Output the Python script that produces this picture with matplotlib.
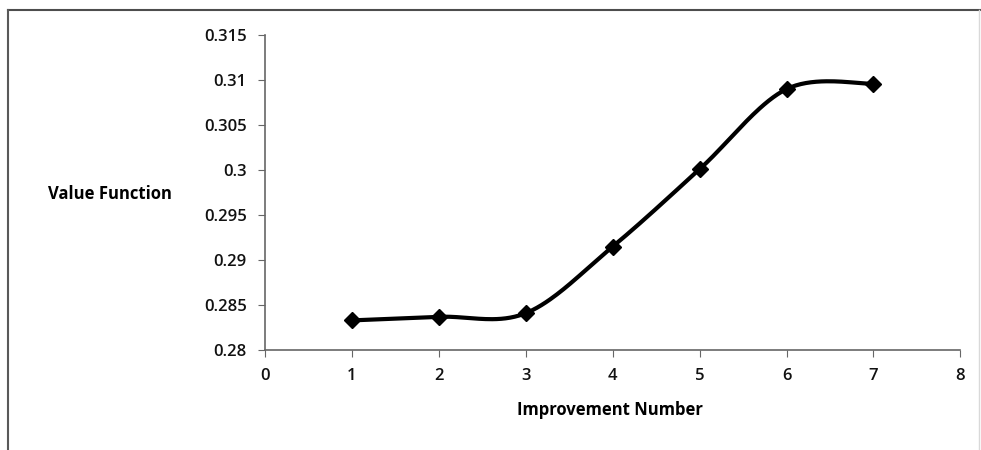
import matplotlib

matplotlib.use("Agg")
import matplotlib.pyplot as plt
import numpy as np
from matplotlib.lines import Line2D

# Valores
improvement = [1, 2, 3, 4, 5, 6, 7]
value_function = [0.2833, 0.2837, 0.2841, 0.2915, 0.3001, 0.3090, 0.3096]

x_ticks = [0, 1, 2, 3, 4, 5, 6, 7, 8]
y_ticks = [0.28, 0.285, 0.29, 0.295, 0.3, 0.305, 0.31, 0.315]
y_tick_labels = ["0.28", "0.285", "0.29", "0.295", "0.3", "0.305", "0.31", "0.315"]


def suavizar(x, y, passos=40):
    """Curva suavizada estilo Excel (Bezier com pontos de controle Catmull-Rom)."""
    x = np.asarray(x, float)
    y = np.asarray(y, float)
    px = np.concatenate([[x[0]], x, [x[-1]]])
    py = np.concatenate([[y[0]], y, [y[-1]]])
    xs, ys = [], []
    t = np.linspace(0, 1, passos)
    for i in range(1, len(px) - 2):
        p0 = np.array([px[i], py[i]])
        p3 = np.array([px[i + 1], py[i + 1]])
        c1 = p0 + (np.array([px[i + 1], py[i + 1]]) - np.array([px[i - 1], py[i - 1]])) / 6
        c2 = p3 - (np.array([px[i + 2], py[i + 2]]) - np.array([px[i], py[i]])) / 6
        b = ((1 - t) ** 3)[:, None] * p0 + (3 * (1 - t) ** 2 * t)[:, None] * c1 \
            + (3 * (1 - t) * t ** 2)[:, None] * c2 + (t ** 3)[:, None] * p3
        xs.extend(b[:, 0])
        ys.extend(b[:, 1])
    return xs, ys


plt.rcParams["font.family"] = ["Open Sans", "DejaVu Sans"]

fig = plt.figure(figsize=(9.81, 4.5), dpi=100)
ax = fig.add_axes([0.270, 0.222, 0.709, 0.700])

xs, ys = suavizar(improvement, value_function)
ax.plot(xs, ys, color="black", lw=3, solid_capstyle="round")
ax.plot(improvement, value_function, "D", color="black", ms=8)

ax.set_xlim(0, 8)
ax.set_ylim(0.28, 0.315)
ax.set_xticks(x_ticks)
ax.set_yticks(y_ticks)
ax.set_yticklabels(y_tick_labels)
ax.tick_params(labelsize=12, length=5, color="0.4", direction="out",
               labelcolor="#111111")
ax.tick_params(axis="x", pad=8)
ax.tick_params(axis="y", pad=8)
for rotulo in ax.get_xticklabels() + ax.get_yticklabels():
    rotulo.set_fontweight("semibold")

for lado in ("top", "right"):
    ax.spines[lado].set_visible(False)
for lado in ("left", "bottom"):
    ax.spines[lado].set_color("0.4")
    ax.spines[lado].set_linewidth(1.2)

fig.text(0.112, 0.568, "Value Function", fontsize=12, fontweight="bold",
         ha="center", va="center")
fig.text(0.622, 0.088, "Improvement Number", fontsize=12, fontweight="bold",
         ha="center", va="center")

# moldura do gráfico (digitalizada: topo e esquerda mais fortes)
fig.add_artist(Line2D([0.008, 0.999], [0.978, 0.978], color="0.3", lw=1.5))
fig.add_artist(Line2D([0.008, 0.008], [0.978, 0.0], color="0.35", lw=1.5))
fig.add_artist(Line2D([0.998, 0.998], [0.978, 0.0], color="0.85", lw=1.0))

fig.savefig("out.png", dpi=100)
